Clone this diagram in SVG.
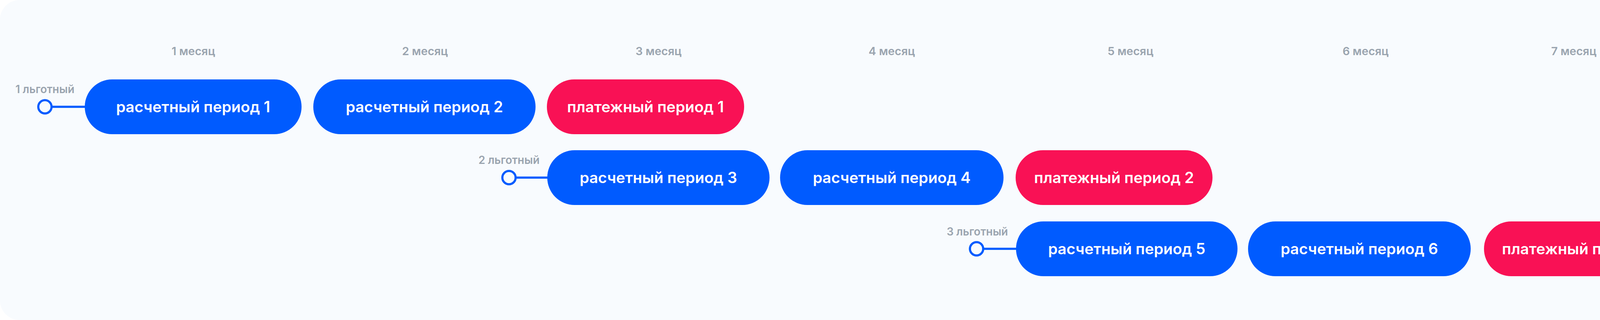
<svg xmlns="http://www.w3.org/2000/svg" width="4368" height="818" viewBox="0 0 4368 818">
  <style>
    .bg { fill: #F8FBFE; }
    .month { font-family: Inter, "Liberation Sans", sans-serif; font-size: 29px; font-weight: 600; fill: #9AA4AF; text-anchor: middle; }
    .grace { font-family: Inter, "Liberation Sans", sans-serif; font-size: 28px; font-weight: 600; fill: #9AA4AF; text-anchor: middle; }
    .calc { fill: #005BFF; }
    .pay { fill: #F91155; }
    .ptext { font-family: Inter, "Liberation Sans", sans-serif; font-size: 39px; font-weight: 600; fill: #FFFFFF; text-anchor: middle; }
    .dot { fill: #F8FBFE; stroke: #005BFF; stroke-width: 5.5; }
    .link { stroke: #005BFF; stroke-width: 5.5; fill: none; }
  </style>
  <rect class="bg" x="0" y="0" width="4368" height="818" rx="50" ry="50"/>

  <g id="months">
    <text class="month" x="495" y="141">1 месяц</text>
    <text class="month" x="1088" y="141">2 месяц</text>
    <text class="month" x="1686" y="141">3 месяц</text>
    <text class="month" x="2283" y="141">4 месяц</text>
    <text class="month" x="2894" y="141">5 месяц</text>
    <text class="month" x="3496" y="141">6 месяц</text>
    <text class="month" x="4029" y="141">7 месяц</text>
  </g>

  <g id="connectors">
    <line class="link" x1="133" y1="273" x2="219" y2="273"/>
    <line class="link" x1="1321" y1="454" x2="1403" y2="454"/>
    <line class="link" x1="2518" y1="636" x2="2603" y2="636"/>
  </g>

  <g id="grace1">
    <circle class="dot" cx="115" cy="273" r="17"/>
    <text class="grace" x="115" y="238">1 льготный</text>
  </g>
  <g id="grace2">
    <circle class="dot" cx="1303" cy="454" r="17"/>
    <text class="grace" x="1303" y="419">2 льготный</text>
  </g>
  <g id="grace3">
    <circle class="dot" cx="2500" cy="636" r="17"/>
    <text class="grace" x="2502" y="602">3 льготный</text>
  </g>

  <g id="calc1">
    <rect class="calc" x="217" y="203" width="555" height="140" rx="70"/>
    <text class="ptext" x="494.5" y="287">расчетный период 1</text>
  </g>
  <g id="calc2">
    <rect class="calc" x="802" y="203" width="569" height="140" rx="70"/>
    <text class="ptext" x="1086.5" y="287">расчетный период 2</text>
  </g>
  <g id="pay1">
    <rect class="pay" x="1400" y="203" width="505" height="140" rx="70"/>
    <text class="ptext" x="1652.5" y="287">платежный период 1</text>
  </g>

  <g id="calc3">
    <rect class="calc" x="1401" y="384" width="569" height="140" rx="70"/>
    <text class="ptext" x="1685.5" y="468">расчетный период 3</text>
  </g>
  <g id="calc4">
    <rect class="calc" x="1997" y="384" width="572" height="140" rx="70"/>
    <text class="ptext" x="2283" y="468">расчетный период 4</text>
  </g>
  <g id="pay2">
    <rect class="pay" x="2600" y="384" width="504" height="140" rx="70"/>
    <text class="ptext" x="2852" y="468">платежный период 2</text>
  </g>

  <g id="calc5">
    <rect class="calc" x="2601" y="566" width="567" height="140" rx="70"/>
    <text class="ptext" x="2884.5" y="650">расчетный период 5</text>
  </g>
  <g id="calc6">
    <rect class="calc" x="3195" y="566" width="570" height="140" rx="70"/>
    <text class="ptext" x="3480" y="650">расчетный период 6</text>
  </g>
  <g id="pay3">
    <rect class="pay" x="3799" y="566" width="502" height="140" rx="70"/>
    <text class="ptext" x="4050" y="650">платежный период 3</text>
  </g>
</svg>
